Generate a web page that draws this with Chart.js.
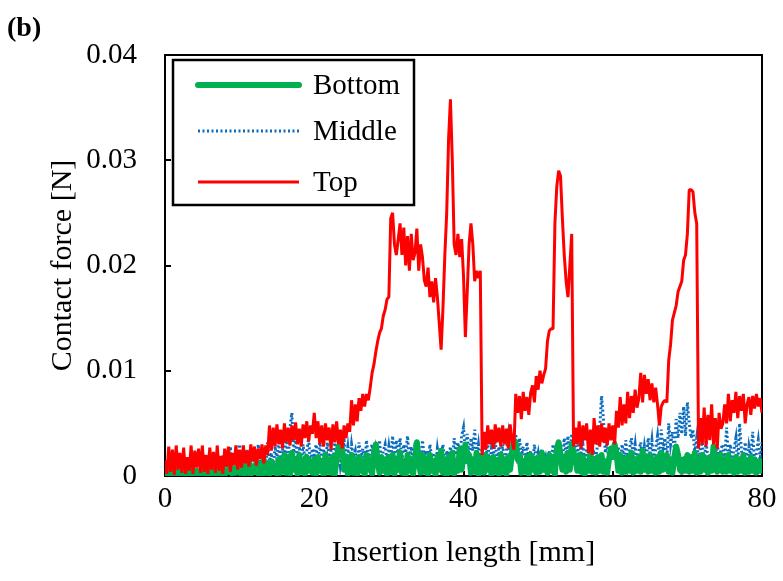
<!DOCTYPE html>
<html>
<head>
<meta charset="utf-8">
<script src="https://cdn.jsdelivr.net/npm/chart.js@4"></script>
<style>
  html, body { margin: 0; padding: 0; background: #fff; }
  #wrap { width: 783px; height: 581px; }
</style>
</head>
<body>
<div id="wrap"><canvas id="forceChart" width="783" height="581"></canvas></div>
<script>
// sample spacing along insertion length [mm]
const xStep = 0.25;

// contact force values in mN, one every 0.25 mm from 0 to 80 mm (one row = 5 mm)
const bottomForce = [
  0.2,0.5,0.1,0.4,0.2,0.6,0.1,0.3,0.2,0.5,0.1,0.4,0.3,0.6,0.1,0.3,0.2,0.5,0.1,0.4,
  0.2,0.6,0.1,0.4,0.3,0.7,0.1,0.5,0.2,0.6,0.3,0.8,0.1,0.5,0.4,0.9,0.2,0.7,0.3,1.0,
  0.3,1.2,0.2,1.0,0.3,1.4,0.1,0.9,0.4,1.3,0.2,1.1,0.1,1.5,0.3,1.2,0.2,1.4,0.4,1.0,
  0.2,1.6,0.3,1.2,2.0,0.3,1.8,0.2,2.2,0.6,1.6,0.2,2.0,0.4,1.5,0.2,1.8,0.5,1.4,0.3,
  1.6,0.2,1.8,0.5,1.4,0.1,2.0,0.4,1.6,0.3,1.8,0.2,1.5,2.8,3.0,2.6,0.6,1.8,0.2,1.4,
  2.0,0.3,1.6,0.2,1.8,0.5,1.4,0.1,2.0,0.6,1.6,0.2,2.2,3.0,1.4,0.3,1.8,0.5,1.6,0.2,
  1.8,0.4,2.0,0.2,1.6,0.6,2.2,0.3,1.4,0.1,2.0,0.5,1.6,0.2,1.8,3.2,1.4,0.3,2.0,0.4,
  1.6,0.2,2.0,0.5,1.4,0.1,1.8,0.6,2.4,0.3,1.6,0.1,1.8,0.4,2.2,0.2,1.4,0.5,2.6,0.6,
  1.8,3.0,1.4,2.0,0.3,1.6,0.4,2.2,0.2,1.4,1.8,0.3,2.0,0.6,1.6,0.1,1.8,0.4,1.4,0.2,
  2.0,0.4,1.6,0.2,1.8,0.6,2.2,3.4,3.2,1.6,2.0,0.3,1.4,0.4,1.8,0.2,2.0,0.6,1.6,0.3,
  1.8,0.4,2.2,0.6,1.6,0.3,2.0,0.5,1.8,0.2,2.6,3.2,2.0,0.6,1.8,0.4,2.2,0.6,3.0,2.2,
  1.6,0.5,2.0,0.4,1.8,0.2,1.4,0.5,2.2,0.4,1.6,0.3,1.8,0.5,2.0,0.4,1.4,0.3,1.6,2.6,
  1.8,3.0,2.2,0.5,2.0,0.3,1.6,0.4,1.8,0.5,2.2,0.3,1.6,0.5,1.8,0.4,2.4,0.6,1.8,0.4,
  2.0,0.5,1.6,0.3,1.8,0.4,2.2,0.6,1.2,2.0,0.4,1.6,0.3,1.8,2.8,2.0,0.6,0.4,1.6,0.5,
  2.0,0.4,1.8,0.5,2.2,0.3,1.6,0.4,2.0,0.6,1.6,0.3,1.8,0.5,2.8,1.6,0.4,1.4,2.0,0.4,
  1.6,0.4,2.0,0.5,1.4,0.3,1.8,0.4,1.6,0.5,2.0,0.3,1.4,0.4,1.8,0.5,1.6,0.3,1.4,0.5,
  1.4
];
const middleForce = [
  0.2,0.8,0.1,0.5,0.3,1.0,0.2,0.6,0.1,0.9,0.3,0.4,0.1,1.2,0.2,0.7,0.3,1.0,0.1,0.5,
  0.4,1.2,0.2,0.8,0.3,1.5,0.5,0.9,0.2,1.4,0.6,2.0,0.4,1.2,0.3,2.8,0.8,1.6,0.5,2.4,
  3.0,0.8,2.0,0.6,2.6,1.0,1.8,0.4,2.2,1.2,3.0,0.6,1.6,2.4,0.9,3.2,1.4,2.2,0.8,2.8,
  1.6,3.4,1.0,2.6,1.8,3.8,1.2,4.6,6.0,2.0,3.6,1.4,2.8,0.8,3.0,1.5,2.4,3.6,1.0,2.6,
  2.0,3.0,1.2,3.4,1.6,2.6,0.8,3.2,1.8,2.4,1.0,3.6,1.4,2.8,1.0,2.2,3.4,1.6,2.8,1.2,
  3.0,1.8,2.4,0.9,3.2,1.6,2.6,1.0,3.4,1.8,2.2,3.0,1.2,2.6,1.6,3.4,1.0,2.4,3.0,1.4,
  2.8,1.5,3.8,1.2,3.4,2.0,3.6,1.4,3.0,2.2,3.8,1.6,2.8,1.0,3.2,2.0,2.6,1.2,3.4,1.8,
  2.4,1.0,3.0,1.6,2.2,0.8,2.6,1.4,1.8,3.0,1.0,2.4,1.6,2.8,1.2,3.6,2.0,3.2,1.4,3.8,
  4.6,2.2,4.0,1.6,3.6,2.4,4.4,1.8,3.0,1.2,2.6,4.0,1.6,3.2,1.0,2.6,1.8,3.4,1.2,2.8,
  1.6,3.0,1.0,2.4,3.8,1.6,3.4,2.0,4.0,1.2,3.6,1.8,2.8,1.0,3.2,1.6,2.4,0.8,3.0,1.4,
  2.2,0.8,2.6,1.2,1.8,0.6,2.4,1.4,3.0,1.0,2.2,1.6,2.8,1.2,3.6,2.0,3.8,1.6,4.0,2.4,
  3.2,1.8,3.6,2.2,3.0,1.2,2.6,1.5,3.0,1.0,2.2,1.8,3.2,4.6,7.6,5.4,2.2,3.4,1.0,2.6,
  2.4,3.6,1.4,2.8,0.8,3.0,1.6,3.4,1.2,2.6,3.6,1.8,3.0,1.0,2.4,3.2,1.2,2.8,1.6,3.6,
  2.0,3.4,1.4,2.6,3.8,1.8,4.4,2.6,3.6,1.6,5.0,3.0,4.2,2.4,5.4,3.6,6.0,4.0,6.6,3.8,
  7.0,5.0,3.6,4.4,2.2,3.6,1.4,2.6,3.2,1.0,3.4,1.6,2.0,0.8,2.8,1.4,3.4,1.2,2.6,3.0,
  1.4,4.6,1.8,3.0,1.2,2.6,3.6,1.0,5.0,2.4,1.6,3.2,1.0,2.8,1.8,4.2,1.2,2.2,3.4,1.6,
  3.2
];
const topForce = [
  1.5,0.2,2.8,0.4,2.5,0.1,2.9,0.6,2.2,0.3,2.7,0.2,1.8,0.5,2.9,0.2,2.4,0.8,2.6,0.3,
  2.9,0.4,2.0,0.2,2.7,0.6,2.3,0.3,2.9,0.5,1.9,0.2,2.6,0.9,2.8,0.4,2.2,1.0,2.9,0.6,
  2.5,0.8,2.9,1.2,2.4,0.9,3.0,1.4,2.8,1.0,2.6,1.6,3.0,1.2,2.9,2.0,4.8,2.4,4.6,2.8,
  4.9,3.0,4.4,2.6,5.0,3.2,4.6,2.9,4.8,3.4,5.1,3.0,4.5,2.8,4.9,3.6,5.2,3.3,4.8,4.0,
  6.0,3.6,5.2,3.0,4.8,2.8,5.0,3.4,4.6,2.5,4.9,3.2,5.2,3.0,4.4,2.6,4.8,3.6,5.0,4.2,
  7.2,4.8,6.8,5.2,7.4,6.2,7.8,6.6,7.8,7.2,8.4,9.8,10.6,11.8,12.8,13.6,14.0,15.2,15.8,16.8,
  17.0,24.5,25.0,22.0,21.0,22.5,24.0,21.0,23.6,20.0,22.8,19.5,23.0,20.5,21.2,23.5,19.5,22.0,20.8,18.6,
  18.0,19.8,17.0,18.5,16.5,18.8,17.0,14.5,12.0,16.0,21.0,25.0,32.0,35.8,30.0,22.0,21.0,23.0,20.8,22.5,
  19.0,13.2,17.5,22.0,24.0,22.0,18.5,19.5,18.8,19.5,2.0,4.2,2.5,4.8,3.0,4.4,2.6,4.9,3.2,4.6,
  2.8,4.8,3.0,4.5,2.6,4.9,3.4,2.5,7.8,6.0,7.6,5.4,8.0,6.2,7.5,5.8,7.9,8.6,7.0,9.5,
  8.2,10.0,8.8,9.6,10.2,12.8,13.8,14.0,14.0,24.0,27.5,29.0,28.5,24.5,21.0,18.5,17.0,20.0,23.0,2.8,
  4.6,3.0,5.2,2.6,4.8,3.4,5.0,2.2,4.4,2.0,5.5,3.0,4.8,2.8,5.0,3.2,4.6,2.9,5.0,3.4,
  4.8,3.0,6.2,4.6,7.5,4.8,6.8,5.0,8.0,5.5,7.6,6.0,8.2,6.5,7.4,9.8,7.0,9.6,7.8,9.2,
  7.2,8.8,7.0,8.4,6.8,4.8,6.6,7.0,7.2,7.0,11.0,12.5,14.8,15.5,16.2,17.5,18.0,18.5,20.5,21.0,
  23.0,27.2,27.2,27.0,25.0,24.0,2.6,5.5,3.0,6.5,2.8,5.8,3.4,6.8,3.0,5.5,2.6,6.0,4.5,5.0,
  6.8,5.0,7.8,5.2,7.2,6.0,8.0,5.5,7.6,6.2,7.8,5.0,6.8,7.5,5.8,7.6,6.4,7.8,6.6,7.4,
  6.0
];

const seriesNames = ['Bottom', 'Middle', 'Top'];
const xTicks = [0, 20, 40, 60, 80];
const yTicks = [0, 0.01, 0.02, 0.03, 0.04];

const serif = '"Liberation Serif", "Times New Roman", serif';

function toPoints(values) {
  // mN -> N
  return values.map((v, i) => ({ x: i * xStep, y: v / 1000 }));
}

// plot frame + inward tick marks, legend box, panel label
const framePlugin = {
  id: 'frame',
  beforeDatasetsDraw(chart) {
    const { ctx, chartArea: a, scales } = chart;
    ctx.save();
    ctx.strokeStyle = '#000';
    ctx.lineWidth = 2;
    ctx.strokeRect(a.left, a.top, a.right - a.left, a.bottom - a.top);
    ctx.beginPath();
    yTicks.forEach(v => {
      const y = Math.round(scales.y.getPixelForValue(v));
      ctx.moveTo(a.left, y);
      ctx.lineTo(a.left + 6, y);
    });
    xTicks.forEach(v => {
      const x = Math.round(scales.x.getPixelForValue(v));
      ctx.moveTo(x, a.bottom);
      ctx.lineTo(x, a.bottom - 5);
    });
    ctx.stroke();
    ctx.restore();
  },
  afterDraw(chart) {
    const { ctx } = chart;
    ctx.save();
    ctx.fillStyle = '#000';
    ctx.font = 'bold 28px ' + serif;
    ctx.textBaseline = 'alphabetic';
    ctx.fillText('(b)', 7, 36);

    const box = { x: 173, y: 60, w: 241, h: 145 };
    ctx.fillStyle = '#fff';
    ctx.fillRect(box.x, box.y, box.w, box.h);
    ctx.strokeStyle = '#000';
    ctx.lineWidth = 2.5;
    ctx.strokeRect(box.x, box.y, box.w, box.h);

    const rows = [85, 131, 182];
    chart.data.datasets.forEach((ds, i) => {
      ctx.beginPath();
      ctx.strokeStyle = ds.borderColor;
      ctx.lineWidth = ds.borderWidth;
      ctx.lineCap = ds.borderCapStyle || 'butt';
      ctx.setLineDash(ds.borderDash || []);
      ctx.moveTo(198, rows[i]);
      ctx.lineTo(299, rows[i]);
      ctx.stroke();
      ctx.setLineDash([]);
      ctx.fillStyle = '#000';
      ctx.font = '29px ' + serif;
      ctx.textBaseline = 'middle';
      ctx.fillText(seriesNames[i], 313, rows[i] + 1);
    });
    ctx.restore();
  }
};

new Chart(document.getElementById('forceChart'), {
  type: 'line',
  data: {
    datasets: [
      {
        label: seriesNames[0],
        data: toPoints(bottomForce),
        borderColor: 'rgb(0,176,80)',
        borderWidth: 6,
        borderCapStyle: 'round',
        borderJoinStyle: 'round',
        pointRadius: 0,
        order: 2
      },
      {
        label: seriesNames[1],
        data: toPoints(middleForce),
        borderColor: 'rgb(10,108,190)',
        borderWidth: 3,
        borderDash: [2, 2.5],
        borderCapStyle: 'butt',
        pointRadius: 0,
        order: 3
      },
      {
        label: seriesNames[2],
        data: toPoints(topForce),
        borderColor: 'rgb(255,0,0)',
        borderWidth: 3,
        borderJoinStyle: 'bevel',
        pointRadius: 0,
        order: 1
      }
    ]
  },
  options: {
    responsive: false,
    devicePixelRatio: 1,
    animation: false,
    layout: { padding: { left: 0, top: 55, right: 21, bottom: 0 } },
    plugins: {
      legend: { display: false },
      tooltip: { enabled: false }
    },
    scales: {
      x: {
        type: 'linear',
        min: 0,
        max: 80,
        afterBuildTicks: s => { s.ticks = xTicks.map(v => ({ value: v })); },
        afterFit: s => { s.height = 105; },
        grid: { display: false, drawTicks: false },
        border: { display: false },
        ticks: {
          color: '#000',
          padding: 6,
          maxRotation: 0,
          font: { family: serif, size: 29 }
        },
        title: {
          display: true,
          text: 'Insertion length [mm]',
          color: '#000',
          font: { family: serif, size: 30 },
          padding: { top: 0, bottom: 10 }
        }
      },
      y: {
        min: 0,
        max: 0.04,
        afterBuildTicks: s => { s.ticks = yTicks.map(v => ({ value: v })); },
        afterFit: s => { s.width = 165; },
        grid: { display: false, drawTicks: false },
        border: { display: false },
        ticks: {
          color: '#000',
          padding: 28,
          font: { family: serif, size: 29 },
          callback: v => (v === 0 ? '0' : v.toFixed(2))
        },
        title: {
          display: true,
          text: 'Contact force [N]',
          color: '#000',
          font: { family: serif, size: 30 },
          padding: { top: 45, bottom: 0 }
        }
      }
    }
  },
  plugins: [framePlugin]
});
</script>
</body>
</html>
